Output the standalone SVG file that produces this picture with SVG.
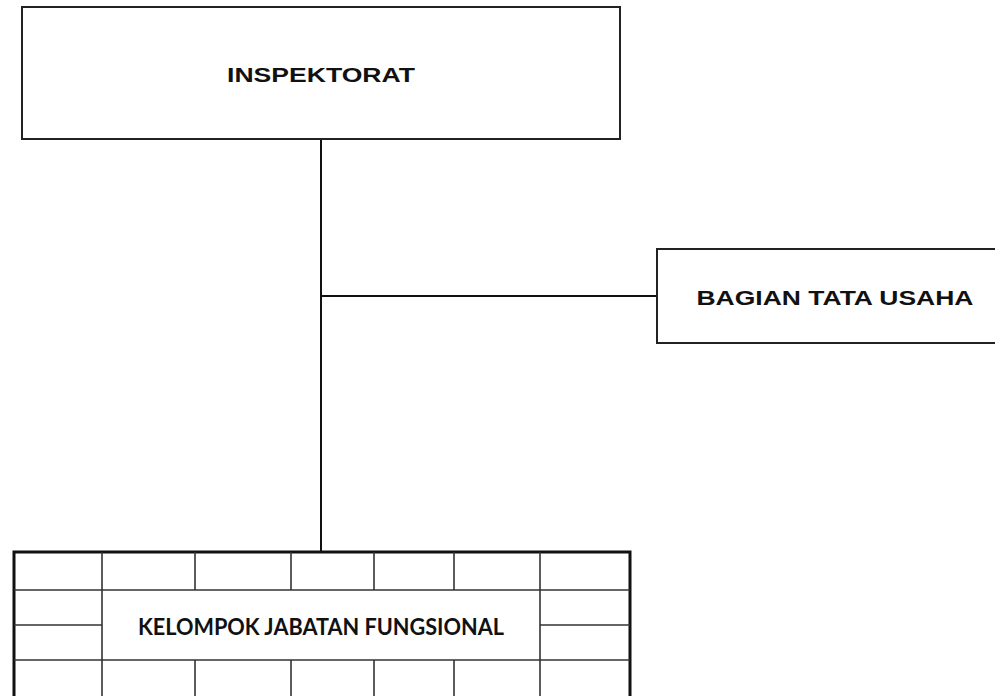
<svg xmlns="http://www.w3.org/2000/svg" width="995" height="696" viewBox="0 0 995 696">
<style>
.box{fill:#fff;stroke:#222;stroke-width:2}
.conn{stroke:#111;stroke-width:2;fill:none}
.grid{stroke:#333;stroke-width:1.6;fill:none}
.outer{fill:#fff;stroke:#111;stroke-width:3}
.ar{font-family:"Liberation Sans",Arial,sans-serif;font-weight:bold;font-size:20.5px;fill:#111}
.cal{font-family:Lato,"Open Sans",sans-serif;font-weight:bold;font-size:22.5px;fill:#111}
</style>
<rect width="995" height="696" fill="#fff"/>
<g id="connectors">
<line class="conn" x1="321" y1="139" x2="321" y2="552"/>
<line class="conn" x1="321" y1="296" x2="657" y2="296"/>
</g>
<g id="inspektorat">
<rect class="box" x="22" y="7" width="598" height="132"/>
<text class="ar" x="321" y="82" text-anchor="middle" textLength="188" lengthAdjust="spacingAndGlyphs">INSPEKTORAT</text>
</g>
<g id="bagian-tata-usaha">
<rect class="box" x="657" y="249" width="345" height="94"/>
<text class="ar" x="835" y="305" text-anchor="middle" textLength="277" lengthAdjust="spacingAndGlyphs">BAGIAN TATA USAHA</text>
</g>
<g id="kelompok-jabatan-fungsional">
<rect class="outer" x="14" y="552" width="616" height="146"/>
<g class="grid">
<line x1="14" y1="590" x2="630" y2="590"/>
<line x1="14" y1="660" x2="630" y2="660"/>
<line x1="14" y1="625" x2="102" y2="625"/>
<line x1="540" y1="625" x2="630" y2="625"/>
<line x1="102" y1="552" x2="102" y2="696"/>
<line x1="540" y1="552" x2="540" y2="696"/>
<line x1="195" y1="552" x2="195" y2="590"/>
<line x1="291" y1="552" x2="291" y2="590"/>
<line x1="374" y1="552" x2="374" y2="590"/>
<line x1="454" y1="552" x2="454" y2="590"/>
<line x1="195" y1="660" x2="195" y2="696"/>
<line x1="291" y1="660" x2="291" y2="696"/>
<line x1="374" y1="660" x2="374" y2="696"/>
<line x1="454" y1="660" x2="454" y2="696"/>
</g>
<text class="cal" x="321" y="635" text-anchor="middle" textLength="366" lengthAdjust="spacingAndGlyphs">KELOMPOK JABATAN FUNGSIONAL</text>
</g>
</svg>
